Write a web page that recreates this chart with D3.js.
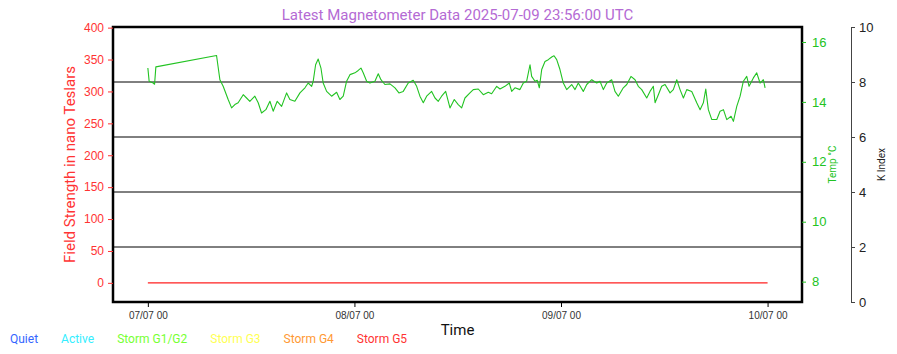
<!DOCTYPE html>
<html>
<head>
<meta charset="utf-8">
<script src="https://cdn.jsdelivr.net/npm/d3@7"></script>
<style>
  body { margin: 0; background: #fff; }
  svg { font-family: Roboto, "DejaVu Sans", sans-serif; }
</style>
</head>
<body>
<div id="chart"></div>
<script>
// hours after 07/07 00:00 UTC, and temperature in deg C
var tempHours = [0.0, 0.15, 0.62, 0.78, 0.93, 7.98, 8.37, 8.75, 9.33, 9.73, 10.11, 10.49, 11.08, 11.47, 11.85,
  12.43, 12.82, 13.21, 13.71, 14.18, 14.56, 15.03, 15.54, 16.12, 16.50, 17.08, 17.67, 18.25, 18.63, 19.03,
  19.21, 19.49, 19.79, 20.11, 20.37, 20.77, 21.35, 21.93, 22.31, 22.70, 23.09, 23.48, 24.06, 24.44, 24.76,
  25.02, 25.42, 25.80, 26.38, 26.77, 27.08, 27.54, 28.13, 28.71, 29.17, 29.67, 30.25, 30.83, 31.23, 31.61,
  32.00, 32.39, 32.97, 33.36, 33.74, 34.13, 34.60, 35.10, 35.60, 36.06, 36.46, 36.84, 37.42, 37.81, 38.39,
  38.97, 39.55, 39.94, 40.53, 40.91, 41.49, 41.99, 42.27, 42.65, 43.23, 43.62, 44.01, 44.40, 44.59, 44.98,
  45.24, 45.48, 45.76, 46.14, 46.52, 46.92, 47.19, 47.50, 47.88, 48.27, 48.66, 49.24, 49.63, 50.01, 50.59,
  50.99, 51.57, 52.15, 52.53, 52.92, 53.31, 53.89, 54.27, 54.66, 55.24, 55.64, 56.13, 56.60, 56.98, 57.38,
  57.96, 58.34, 58.73, 58.93, 59.31, 59.70, 60.09, 60.67, 61.05, 61.45, 61.83, 62.22, 62.61, 63.19, 63.77,
  64.16, 64.54, 64.82, 65.12, 65.52, 66.10, 66.48, 66.87, 67.26, 67.76, 68.03, 68.42, 68.81, 69.19, 69.58,
  69.85, 70.35, 70.74, 71.13, 71.51, 71.71];
var tempValues = [15.13, 14.69, 14.63, 14.59, 15.17, 15.55, 14.74, 14.52, 14.08, 13.80, 13.91, 13.97, 14.24, 14.13, 14.02,
  14.19, 13.97, 13.63, 13.74, 14.02, 13.69, 14.02, 13.85, 14.30, 14.08, 14.02, 14.30, 14.47, 14.63, 14.52,
  14.69, 15.24, 15.43, 15.13, 14.63, 14.35, 14.19, 14.32, 14.08, 14.19, 14.69, 14.91, 14.97, 15.05, 15.13,
  14.97, 14.69, 14.63, 14.69, 14.94, 14.74, 14.58, 14.60, 14.47, 14.30, 14.35, 14.63, 14.72, 14.52, 14.19,
  13.97, 14.19, 14.35, 14.13, 14.02, 14.19, 14.35, 13.80, 14.08, 13.91, 13.80, 14.13, 14.30, 14.41, 14.43,
  14.24, 14.32, 14.27, 14.52, 14.43, 14.52, 14.63, 14.35, 14.47, 14.41, 14.63, 14.69, 15.24, 14.85, 14.69,
  14.72, 14.47, 15.08, 15.35, 15.41, 15.50, 15.54, 15.41, 15.08, 14.63, 14.41, 14.58, 14.41, 14.63, 14.35,
  14.58, 14.74, 14.63, 14.69, 14.41, 14.63, 14.74, 14.35, 14.19, 14.47, 14.58, 14.85, 14.74, 14.52, 14.41,
  14.13, 14.35, 14.52, 13.97, 14.24, 14.52, 14.58, 14.30, 14.41, 14.74, 14.41, 14.13, 14.41, 14.35, 13.97,
  13.74, 13.97, 14.43, 13.74, 13.41, 13.41, 13.69, 13.74, 13.41, 13.52, 13.35, 13.85, 14.19, 14.69, 14.85,
  14.52, 14.80, 14.97, 14.63, 14.74, 14.47];

// field strength (nT) - flat at zero
var fieldHours = [0, 72];
var fieldValues = [0, 0];

// K index storm level lines
var kLevels = [2, 4, 6, 8];

var fieldTicks = [0, 50, 100, 150, 200, 250, 300, 350, 400];
var tempTicks = [8, 10, 12, 14, 16];
var kTicks = [0, 2, 4, 6, 8, 10];

var legendLabels = ["Quiet", "Active", "Storm G1/G2", "Storm G3", "Storm G4", "Storm G5"];
var legendColors = ["#3366ff", "#33eeff", "#77ff33", "#ffff55", "#ff9933", "#ff3333"];

var title = "Latest Magnetometer Data 2025-07-09 23:56:00 UTC";

var t0 = Date.UTC(2025, 6, 7);
function toDate(h) { return new Date(t0 + h * 3600 * 1000); }

var W = 897, H = 354;
var margin = {top: 27, right: 95, bottom: 52, left: 113};
var width = W - margin.left - margin.right,
    height = H - margin.top - margin.bottom;

var svg = d3.select("#chart").append("svg")
    .attr("width", W)
    .attr("height", H);

var g = svg.append("g")
    .attr("transform", "translate(" + margin.left + "," + margin.top + ")");

var x = d3.scaleUtc()
    .domain([toDate(-4.05), toDate(76.0)])
    .range([0, width]);
var yField = d3.scaleLinear().domain([-30, 401]).range([height, 0]);
var yTemp = d3.scaleLinear().domain([7.32, 16.5]).range([height, 0]);
var yK = d3.scaleLinear().domain([0, 10]).range([height, 0]);

// K level lines
g.selectAll(".klevel")
    .data(kLevels)
    .enter()
    .append("line")
    .attr("class", "klevel")
    .attr("x1", 0)
    .attr("x2", width)
    .attr("y1", function (d) { return yK(d); })
    .attr("y2", function (d) { return yK(d); })
    .attr("stroke", "#000")
    .attr("stroke-width", 1);

// field line
var fieldData = fieldHours.map(function (h, i) { return {t: toDate(h), v: fieldValues[i]}; });
g.append("path")
    .datum(fieldData)
    .attr("fill", "none")
    .attr("stroke", "#ff2020")
    .attr("stroke-width", 1.2)
    .attr("d", d3.line()
      .x(function (d) { return x(d.t); })
      .y(function (d) { return yField(d.v); }));

// temperature line
var tempData = tempHours.map(function (h, i) { return {t: toDate(h), v: tempValues[i]}; });
g.append("path")
    .datum(tempData)
    .attr("fill", "none")
    .attr("stroke", "#22c322")
    .attr("stroke-width", 1.1)
    .attr("stroke-linejoin", "round")
    .attr("d", d3.line()
      .x(function (d) { return x(d.t); })
      .y(function (d) { return yTemp(d.v); }));

// frame
g.append("rect")
    .attr("x", 0)
    .attr("y", 0)
    .attr("width", width)
    .attr("height", height)
    .attr("fill", "none")
    .attr("stroke", "#000")
    .attr("stroke-width", 2.5);

// left axis (red)
var leftAxis = g.append("g")
    .call(d3.axisLeft(yField).tickValues(fieldTicks).tickSize(5).tickPadding(4));
leftAxis.select(".domain").remove();
leftAxis.selectAll("line").attr("stroke", "#ff3333");
leftAxis.selectAll("text").attr("fill", "#ff3333").style("font-size", "12px");

// right temp axis (green)
var tempAxis = g.append("g")
    .attr("transform", "translate(" + width + ",0)")
    .call(d3.axisRight(yTemp).tickValues(tempTicks).tickSize(4).tickPadding(6));
tempAxis.select(".domain").remove();
tempAxis.selectAll("line").attr("stroke", "#22c322");
tempAxis.selectAll("text").attr("fill", "#22c322").style("font-size", "13px");

// K index axis
var kAxis = g.append("g")
    .attr("transform", "translate(" + (width + 49) + ",0)")
    .call(d3.axisRight(yK).tickValues(kTicks).tickSize(4).tickPadding(4));
kAxis.select(".domain").attr("stroke", "#444");
kAxis.selectAll("line").attr("stroke", "#444");
kAxis.selectAll("text").attr("fill", "#222").style("font-size", "13px");

// x axis
var xAxis = g.append("g")
    .attr("transform", "translate(0," + height + ")")
    .call(d3.axisBottom(x).ticks(d3.utcDay.every(1)).tickFormat(d3.utcFormat("%d/%m %H")).tickSize(5).tickPadding(5));
xAxis.select(".domain").remove();
xAxis.selectAll("line").attr("stroke", "#000");
xAxis.selectAll("text").attr("fill", "#333").style("font-size", "10px");

// title
svg.append("text")
    .attr("x", margin.left + width / 2)
    .attr("y", 20)
    .attr("text-anchor", "middle")
    .attr("fill", "#b46ad4")
    .style("font-size", "15px")
    .text(title);

// axis labels
svg.append("text")
    .attr("transform", "translate(75," + (margin.top + height / 2) + ") rotate(-90)")
    .attr("text-anchor", "middle")
    .attr("fill", "#ff3333")
    .style("font-size", "15px")
    .text("Field Strength in nano Teslars");

svg.append("text")
    .attr("transform", "translate(836," + (margin.top + height / 2) + ") rotate(-90)")
    .attr("text-anchor", "middle")
    .attr("fill", "#22c322")
    .style("font-size", "10px")
    .text("Temp °C");

svg.append("text")
    .attr("transform", "translate(885," + (margin.top + height / 2) + ") rotate(-90)")
    .attr("text-anchor", "middle")
    .attr("fill", "#222")
    .style("font-size", "10px")
    .text("K Index");

svg.append("text")
    .attr("x", margin.left + width / 2)
    .attr("y", 335)
    .attr("text-anchor", "middle")
    .attr("fill", "#111")
    .style("font-size", "15px")
    .text("Time");

// legend, laid out left to right
var lx = 10;
legendLabels.forEach(function (lab, i) {
    var t = svg.append("text")
        .attr("x", lx)
        .attr("y", 343)
        .attr("fill", legendColors[i])
        .style("font-size", "12px")
        .text(lab);
    lx += t.node().getComputedTextLength() + 23;
});
</script>
</body>
</html>
